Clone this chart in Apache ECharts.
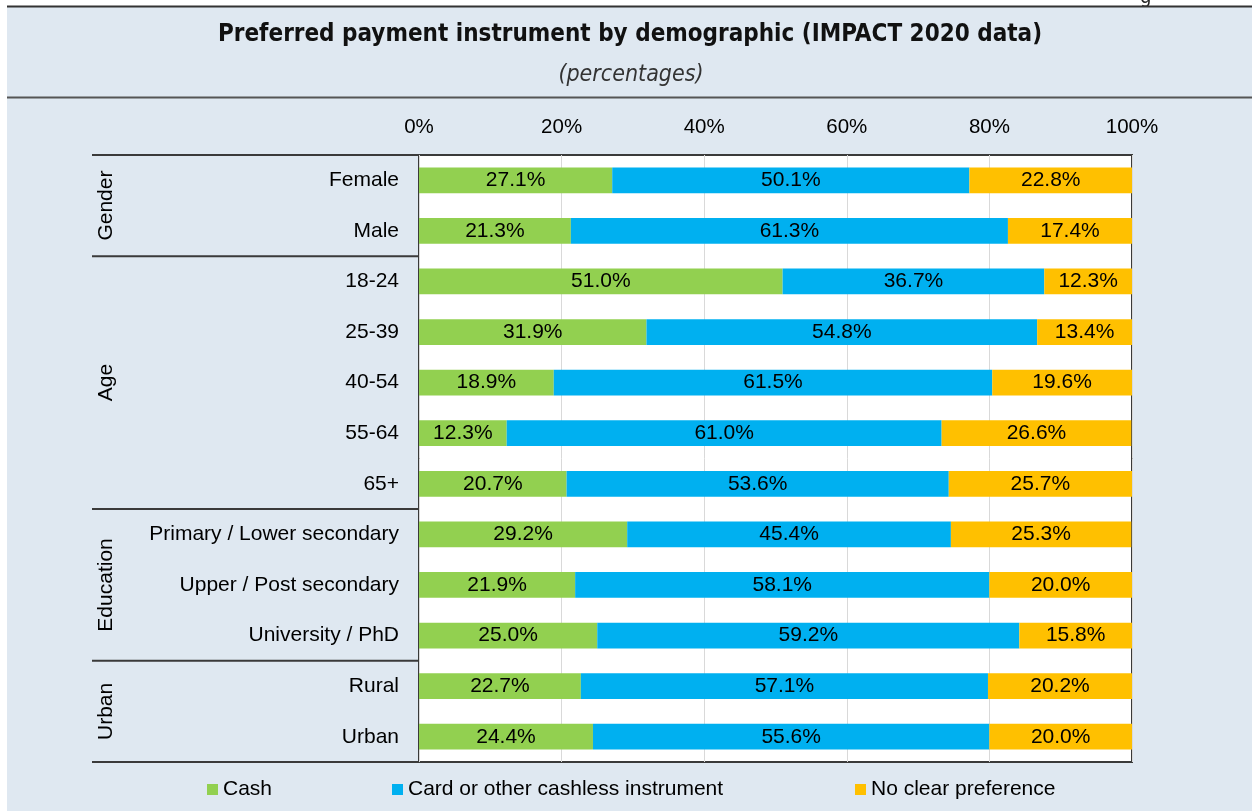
<!DOCTYPE html>
<html>
<head>
<meta charset="utf-8">
<script src="https://cdn.jsdelivr.net/npm/echarts@6/dist/echarts.min.js"></script>
<style>
  html, body { margin: 0; padding: 0; background: #ffffff; }
  #chart { width: 1252px; height: 811px; }
</style>
</head>
<body>
<div id="chart"></div>
<script>
// Preferred payment instrument by demographic, IMPACT 2020 survey (percent of respondents)
const categories = ['Female', 'Male', '18-24', '25-39', '40-54', '55-64', '65+',
  'Primary / Lower secondary', 'Upper / Post secondary', 'University / PhD', 'Rural', 'Urban'];
const groupNames = ['Gender', 'Age', 'Education', 'Urban'];
const groupSizes = [2, 5, 3, 2];
const cash = [27.1, 21.3, 51.0, 31.9, 18.9, 12.3, 20.7, 29.2, 21.9, 25.0, 22.7, 24.4];
const cashless = [50.1, 61.3, 36.7, 54.8, 61.5, 61.0, 53.6, 45.4, 58.1, 59.2, 57.1, 55.6];
const noPreference = [22.8, 17.4, 12.3, 13.4, 19.6, 26.6, 25.7, 25.3, 20.0, 15.8, 20.2, 20.0];
const seriesNames = ['Cash', 'Card or other cashless instrument', 'No clear preference'];
const seriesColors = ['#92d050', '#00b0f0', '#ffc000'];
const axisMin = 0, axisMax = 100, axisStep = 20;

const FONT = "'Liberation Sans', Arial, sans-serif";
const TITLE_FONT = "'Liberation Sans Narrow', 'DejaVu Sans Condensed', 'Liberation Sans', sans-serif";
const BG = '#dfe8f1';
const RULE = '#3a3a3a';

const chart = echarts.init(document.getElementById('chart'), null, { renderer: 'canvas' });

const gridBox = { left: 419, right: 120, top: 155, bottom: 49 };

function barSeries(name, values, color) {
  return {
    name: name,
    type: 'bar',
    stack: 'share',
    barWidth: '51%',
    data: values,
    itemStyle: { color: color },
    label: {
      show: true,
      position: 'inside',
      color: '#000',
      fontFamily: FONT,
      fontSize: 21,
      formatter: p => p.value.toFixed(1) + '%'
    },
    emphasis: { disabled: true }
  };
}

const legendLefts = [202, 387, 850];

chart.setOption({
  backgroundColor: BG,
  animation: false,
  grid: Object.assign({
    show: true,
    backgroundColor: '#ffffff',
    borderColor: RULE,
    borderWidth: 2,
    containLabel: false
  }, gridBox),
  xAxis: {
    type: 'value',
    position: 'top',
    min: axisMin,
    max: axisMax,
    interval: axisStep,
    axisLine: { show: false },
    axisTick: { show: false },
    splitLine: { lineStyle: { color: '#d9d9d9', width: 1 } },
    axisLabel: {
      formatter: '{value}%',
      color: '#000',
      fontFamily: FONT,
      fontSize: 20.5,
      margin: 17
    }
  },
  yAxis: {
    type: 'category',
    inverse: true,
    data: categories,
    axisLine: { show: false },
    axisTick: { show: false },
    splitLine: { show: false },
    axisLabel: {
      color: '#000',
      fontFamily: FONT,
      fontSize: 21,
      margin: 20
    }
  },
  legend: seriesNames.map((n, i) => ({
    data: [n],
    left: legendLefts[i],
    top: 774,
    icon: 'rect',
    itemWidth: 11,
    itemHeight: 11,
    itemGap: 0,
    selectedMode: false,
    textStyle: { color: '#000', fontFamily: FONT, fontSize: 21, padding: [0, 0, 0, 0] }
  })),
  series: [
    barSeries(seriesNames[0], cash, seriesColors[0]),
    barSeries(seriesNames[1], cashless, seriesColors[1]),
    barSeries(seriesNames[2], noPreference, seriesColors[2])
  ]
});

// Frame, title block and the grouped category brackets on the left
function buildDecorations() {
  const W = chart.getWidth();
  const H = chart.getHeight();
  const plotTop = gridBox.top;
  const plotBottom = H - gridBox.bottom;
  const plotLeft = gridBox.left;
  const bracketLeft = 92;

  const centers = categories.map(c => chart.convertToPixel({ yAxisIndex: 0 }, c));
  const els = [];

  // page margins and header rules
  els.push({ type: 'rect', shape: { x: 0, y: 0, width: W, height: 6 }, style: { fill: '#ffffff' }, silent: true, z: 10 });
  els.push({ type: 'rect', shape: { x: 0, y: 0, width: 7, height: H }, style: { fill: '#ffffff' }, silent: true, z: 10 });
  els.push({ type: 'text', x: 1140, y: -12, style: { text: 'g', font: "20px " + TITLE_FONT, fill: '#222' }, silent: true, z: 11 });
  els.push({ type: 'line', shape: { x1: 7, y1: 6.5, x2: W, y2: 6.5 }, style: { stroke: '#333', lineWidth: 2 }, silent: true, z: 11 });
  els.push({ type: 'line', shape: { x1: 7, y1: 97.5, x2: W, y2: 97.5 }, style: { stroke: '#555', lineWidth: 2 }, silent: true, z: 11 });

  els.push({
    type: 'text', x: 630, y: 35,
    style: {
      text: 'Preferred payment instrument by demographic (IMPACT 2020 data)',
      font: "bold 24px " + TITLE_FONT, fill: '#111', align: 'center', verticalAlign: 'middle'
    },
    silent: true, z: 11
  });
  els.push({
    type: 'text', x: 631, y: 75,
    style: {
      text: '(percentages)',
      font: "italic 23px " + TITLE_FONT, fill: '#333', align: 'center', verticalAlign: 'middle'
    },
    silent: true, z: 11
  });

  // group separators and rotated group names
  let start = 0;
  const boundaryY = i => {
    if (i <= 0) return plotTop;
    if (i >= categories.length) return plotBottom;
    return (centers[i - 1] + centers[i]) / 2;
  };
  els.push({ type: 'line', shape: { x1: bracketLeft, y1: plotTop, x2: plotLeft, y2: plotTop }, style: { stroke: RULE, lineWidth: 2 }, silent: true, z: 11 });
  groupNames.forEach((g, gi) => {
    const end = start + groupSizes[gi];
    const y0 = boundaryY(start);
    const y1 = boundaryY(end);
    els.push({
      type: 'line',
      shape: { x1: bracketLeft, y1: y1, x2: plotLeft, y2: y1 },
      style: { stroke: RULE, lineWidth: 2 }, silent: true, z: 11
    });
    els.push({
      type: 'text', x: 106, y: (y0 + y1) / 2, rotation: Math.PI / 2,
      style: { text: g, font: "21px " + FONT, fill: '#000', align: 'center', verticalAlign: 'middle' },
      silent: true, z: 11
    });
    start = end;
  });

  chart.setOption({ graphic: { elements: els } });
}

buildDecorations();
</script>
</body>
</html>
